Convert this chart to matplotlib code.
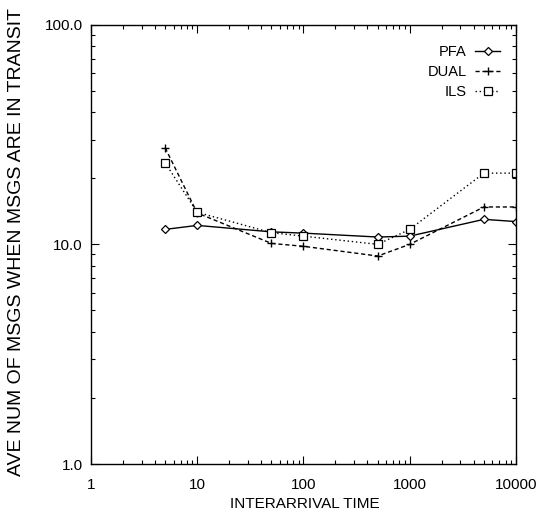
import matplotlib
matplotlib.use("Agg")
import matplotlib.pyplot as plt
from matplotlib.ticker import FixedLocator, FixedFormatter, LogLocator, NullFormatter

plt.rcParams['font.family'] = ['Liberation Sans', 'DejaVu Sans']

# interarrival time
x = [5, 10, 50, 100, 500, 1000, 5000, 10000]
# ave num of msgs in transit
pfa = [11.7, 12.2, 11.4, 11.25, 10.8, 10.9, 13.0, 12.7]
dual = [27.5, 13.9, 10.1, 9.8, 8.85, 10.0, 14.8, 14.8]
ils = [23.5, 14.0, 11.3, 10.9, 10.0, 11.7, 21.1, 21.1]

xticks = [1, 10, 100, 1000, 10000]
xlabels = ['1', '10', '100', '1000', '10000']
yticks = [1, 10, 100]
ylabels = ['1.0', '10.0', '100.0']

W, H = 538, 515
fig = plt.figure(figsize=(W / 100, H / 100), dpi=100)
ax = fig.add_axes([0.169, 0.099, 0.790, 0.853])

ax.plot(x, pfa, color='black', lw=1.0, ls='-', marker='D', ms=4.5,
        mfc='white', mec='black', mew=0.9, label='PFA')
ax.plot(x, dual, color='black', lw=1.0, ls=(0, (3, 2)), marker='+', ms=6,
        mew=1.0, label='DUAL')
ax.plot(x, ils, color='black', lw=1.0, ls=(0, (1, 2)), marker='s', ms=5.5,
        mfc='white', mec='black', mew=0.9, label='ILS')

ax.set_xscale('log')
ax.set_yscale('log')
ax.set_xlim(1, 10000)
ax.set_ylim(1, 100)

ax.xaxis.set_major_locator(FixedLocator(xticks))
ax.xaxis.set_major_formatter(FixedFormatter(xlabels))
ax.yaxis.set_major_locator(FixedLocator(yticks))
ax.yaxis.set_major_formatter(FixedFormatter(ylabels))
for a in (ax.xaxis, ax.yaxis):
    a.set_minor_locator(LogLocator(base=10, subs=range(2, 10)))
    a.set_minor_formatter(NullFormatter())

ax.tick_params(which='both', direction='in', top=True, right=True,
               labelsize=11, width=0.8)
ax.tick_params(which='major', length=6)
ax.tick_params(which='minor', length=3)
ax.tick_params(axis='x', which='major', pad=10)
ax.tick_params(axis='y', which='major', pad=6)
for s in ax.spines.values():
    s.set_linewidth(1.0)

# axis titles placed like the original
fig.text(305 / W, 1 - 504 / H, 'INTERARRIVAL TIME', fontsize=11,
         ha='center', va='center')
fig.text(17 / W, 1 - 242 / H, 'AVE NUM OF MSGS WHEN MSGS ARE IN TRANSIT',
         fontsize=14, rotation=90, ha='center', va='center')

ax.legend(loc='upper right', bbox_to_anchor=(0.963, 0.954), frameon=False,
          markerfirst=False, fontsize=10.5, handlelength=1.7,
          labelspacing=0.42, handletextpad=0.6, borderaxespad=0,
          borderpad=0)

fig.savefig('out.png', dpi=100)
